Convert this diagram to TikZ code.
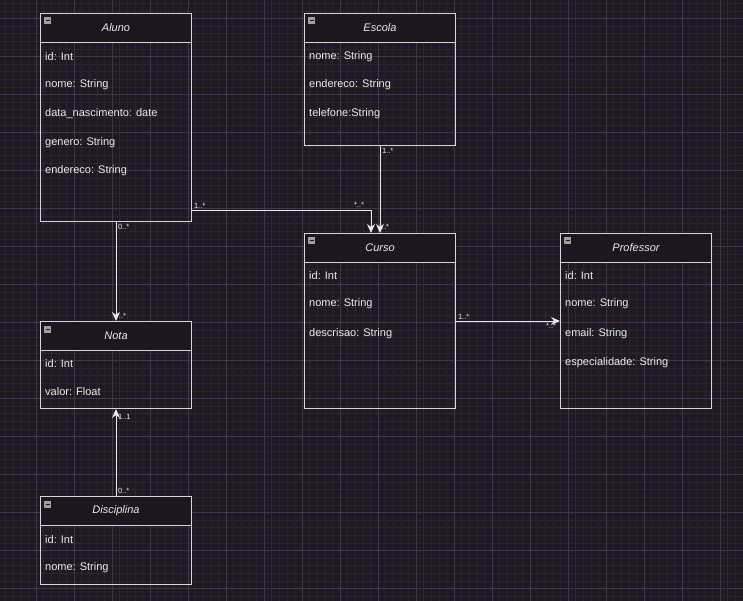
\documentclass[tikz,border=0pt]{standalone}
\usepackage{fontspec}
\setmainfont{Liberation Sans}
\usetikzlibrary{arrows.meta}

\definecolor{bgdark}{RGB}{29,26,35}
\definecolor{gridminor}{RGB}{41,38,49}
\definecolor{gridmajor}{RGB}{60,56,70}
\definecolor{boxline}{RGB}{214,214,218}
\definecolor{hdrfill}{RGB}{26,23,31}
\definecolor{txt}{RGB}{234,234,238}

\tikzset{
	classbox/.style={draw=boxline, line width=1pt, minimum width=151pt, inner sep=0pt, anchor=north west},
	header/.style={draw=boxline, line width=1pt, fill=hdrfill, minimum width=151pt, minimum height=29pt, inner sep=0pt, anchor=north west},
	title/.style={text=txt, font=\fontsize{11}{13}\selectfont\itshape},
	attr/.style={text=txt, font=\fontsize{11}{13}\selectfont, anchor=west, inner sep=0pt},
	icon/.style={fill=gray!75, minimum size=7pt, inner sep=0pt, path picture={\draw[hdrfill, line width=1pt] ([xshift=1.5pt]path picture bounding box.west) -- ([xshift=-1.5pt]path picture bounding box.east);}},
	conn/.style={draw=txt, line width=1pt, -{Stealth[length=9pt,width=8pt]}},
	lbl/.style={text=txt, font=\fontsize{7.5}{8}\selectfont, inner sep=1.5pt}
}

\begin{document}
\begin{tikzpicture}[x=1pt, y=-1pt]
	\useasboundingbox (0,0) rectangle (743,601);
	\clip (0,0) rectangle (743,601);
	% background and grid
	\fill[bgdark] (0,0) rectangle (743,601);
	\foreach \i in {0,...,98}
		\draw[gridminor, line width=0.5pt] ({-2+7.6*\i},0) -- ({-2+7.6*\i},601);
	\foreach \i in {0,...,78}
		\draw[gridminor, line width=0.5pt] (0,{3.2+7.6*\i}) -- (743,{3.2+7.6*\i});
	\foreach \i in {0,...,19}
		\draw[gridmajor, line width=0.6pt] ({36+38*\i},0) -- ({36+38*\i},601);
	\foreach \i in {0,...,15}
		\draw[gridmajor, line width=0.6pt] (0,{18+38*\i}) -- (743,{18+38*\i});

	% Aluno
	\node[classbox, minimum height=208pt] (aluno) at (40,13) {};
	\node[header] (alunoH) at (aluno.north west) {};
	\node[icon, xshift=7.5pt, yshift=-8pt] (alunoI) at (alunoH.north west) {};
	\node[title] (alunoT) at (alunoH.center) {Aluno};
	\foreach \y/\ytext [count=\i] in {57/id: Int, 85/nome: String, 114/data\_nascimento: date, 143/genero: String, 171/endereco: String}
		\node[attr] (aluno\i) at (45,\y) {\ytext};

	% Escola
	\node[classbox, minimum height=132pt] (escola) at (304,13) {};
	\node[header] (escolaH) at (escola.north west) {};
	\node[icon, xshift=7.5pt, yshift=-8pt] (escolaI) at (escolaH.north west) {};
	\node[title] (escolaT) at (escolaH.center) {Escola};
	\foreach \y/\ytext [count=\i] in {57/nome: String, 85/endereco: String, 114/telefone:String}
		\node[attr] (escola\i) at (309,\y) {\ytext};

	% Curso
	\node[classbox, minimum height=175pt] (curso) at (304,233) {};
	\node[header] (cursoH) at (curso.north west) {};
	\node[icon, xshift=7.5pt, yshift=-8pt] (cursoI) at (cursoH.north west) {};
	\node[title] (cursoT) at (cursoH.center) {Curso};
	\foreach \y/\ytext [count=\i] in {276/id: Int, 304/nome: String, 334/descrisao: String}
		\node[attr] (curso\i) at (309,\y) {\ytext};

	% Professor
	\node[classbox, minimum height=175pt] (professor) at (560,233) {};
	\node[header] (professorH) at (professor.north west) {};
	\node[icon, xshift=7.5pt, yshift=-8pt] (professorI) at (professorH.north west) {};
	\node[title] (professorT) at (professorH.center) {Professor};
	\foreach \y/\ytext [count=\i] in {276/id: Int, 304/nome: String, 334/email: String, 363/especialidade: String}
		\node[attr] (professor\i) at (565,\y) {\ytext};

	% Nota
	\node[classbox, minimum height=87pt] (nota) at (40,321) {};
	\node[header] (notaH) at (nota.north west) {};
	\node[icon, xshift=7.5pt, yshift=-8pt] (notaI) at (notaH.north west) {};
	\node[title] (notaT) at (notaH.center) {Nota};
	\foreach \y/\ytext [count=\i] in {364/id: Int, 392/valor: Float}
		\node[attr] (nota\i) at (45,\y) {\ytext};

	% Disciplina
	\node[classbox, minimum height=88pt] (disciplina) at (40,496) {};
	\node[header] (disciplinaH) at (disciplina.north west) {};
	\node[icon, xshift=7.5pt, yshift=-8pt] (disciplinaI) at (disciplinaH.north west) {};
	\node[title] (disciplinaT) at (disciplinaH.center) {Disciplina};
	\foreach \y/\ytext [count=\i] in {540/id: Int, 568/nome: String}
		\node[attr] (disciplina\i) at (45,\y) {\ytext};

	% associations
	\draw[conn] ([yshift=11pt]aluno.south east) -| ([xshift=-9pt]curso.north)
		node[lbl, pos=0, above right] {1..*}
		node[lbl, pos=0.5, above left, xshift=-5pt, yshift=1pt] {*..*};
	\draw[conn] (escola.south) -- (curso.north)
		node[lbl, pos=0, below right] {1..*}
		node[lbl, pos=1, above right, xshift=-3pt, yshift=1pt] {*..*};
	\draw[conn] (aluno.south) -- (nota.north)
		node[lbl, pos=0, below right] {0..*}
		node[lbl, pos=1, above right, xshift=-2pt, yshift=1pt] {*..*};
	\draw[conn] (disciplina.north) -- (nota.south)
		node[lbl, pos=0, above right] {0..*}
		node[lbl, pos=1, below right, yshift=-3pt] {1..1};
	\draw[conn] (curso.east) -- (professor.west)
		node[lbl, pos=0, above right] {1..*}
		node[lbl, pos=1, below left, xshift=-2pt] {*..*};
\end{tikzpicture}
\end{document}
